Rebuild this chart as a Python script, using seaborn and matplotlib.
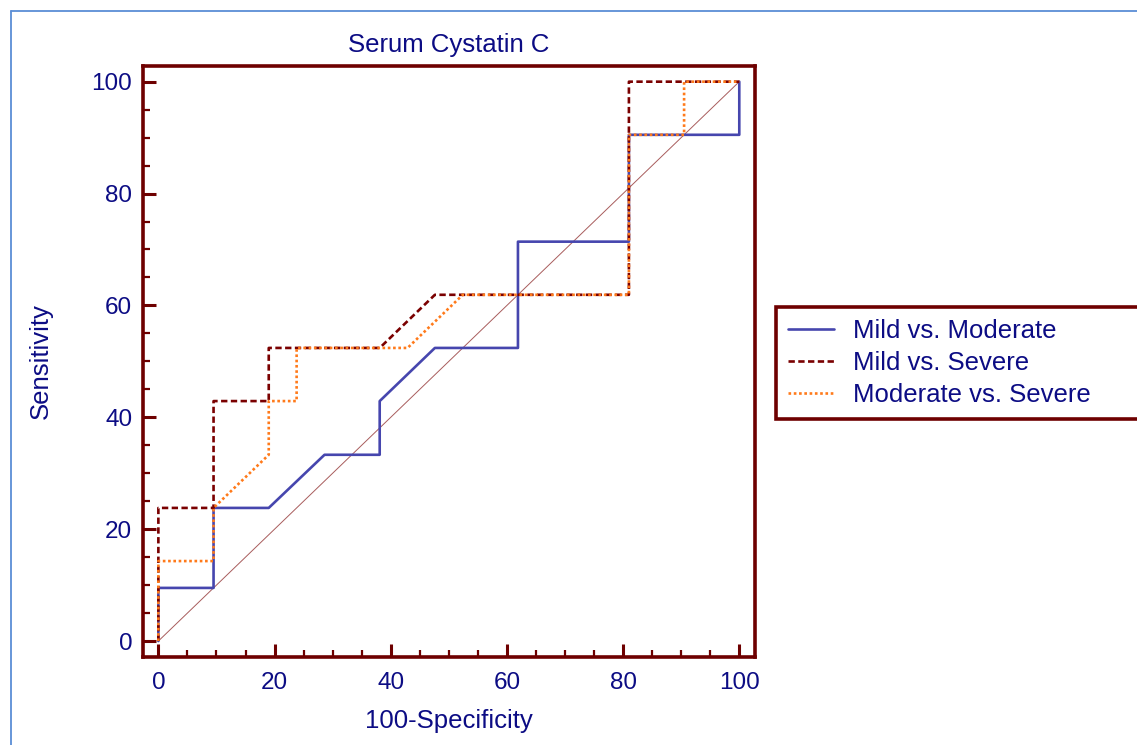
import numpy as np
import pandas as pd
import matplotlib
matplotlib.use("Agg")
import matplotlib.pyplot as plt
from matplotlib.lines import Line2D
from matplotlib.ticker import MultipleLocator
import seaborn as sns

# ROC curve points (100-Specificity, Sensitivity)
mild_mod_x = [0, 0, 9.5, 9.5, 19.0, 28.6, 38.1, 38.1, 47.6, 61.9, 61.9, 81.0, 81.0, 100, 100]
mild_mod_y = [0, 9.5, 9.5, 23.8, 23.8, 33.3, 33.3, 42.9, 52.4, 52.4, 71.4, 71.4, 90.5, 90.5, 100]

mild_sev_x = [0, 0, 9.5, 9.5, 19.0, 19.0, 38.1, 47.6, 81.0, 81.0, 100]
mild_sev_y = [0, 23.8, 23.8, 42.9, 42.9, 52.4, 52.4, 61.9, 61.9, 100, 100]

mod_sev_x = [0, 0, 9.5, 9.5, 19.0, 19.0, 23.8, 23.8, 42.9, 52.4, 81.0, 81.0, 90.5, 90.5, 100]
mod_sev_y = [0, 14.3, 14.3, 23.8, 33.3, 42.9, 42.9, 52.4, 52.4, 61.9, 61.9, 90.5, 90.5, 100, 100]

ref_x = [0, 100]
ref_y = [0, 100]

labels = ["Mild vs. Moderate", "Mild vs. Severe", "Moderate vs. Severe"]

sns.set_style("white")
plt.rcParams['font.family'] = ['Liberation Sans', 'DejaVu Sans']

navy = "#0c0c84"
frame = "#6e0000"

fig = plt.figure(figsize=(11.37, 7.45), dpi=100)
ax = fig.add_axes([0.126, 0.1185, 0.538, 0.7929])

# diagonal reference
sns.lineplot(x=ref_x, y=ref_y, ax=ax, color="#a85c5c", linewidth=0.7,
             sort=False, estimator=None)

sns.lineplot(x=mild_mod_x, y=mild_mod_y, ax=ax, color="#4646ae", linewidth=1.9,
             sort=False, estimator=None, label=labels[0])
sns.lineplot(x=mild_sev_x, y=mild_sev_y, ax=ax, color="#7a0000", linewidth=1.9,
             sort=False, estimator=None, label=labels[1])
sns.lineplot(x=mod_sev_x, y=mod_sev_y, ax=ax, color="#ff7a1a", linewidth=1.9,
             sort=False, estimator=None, label=labels[2])
ax.lines[2].set_linestyle((0, (2.4, 1.3)))
ax.lines[3].set_linestyle((0, (1, 1)))

ax.set_xlim(-2.6, 102.7)
ax.set_ylim(-2.8, 102.8)

ax.xaxis.set_major_locator(MultipleLocator(20))
ax.xaxis.set_minor_locator(MultipleLocator(5))
ax.yaxis.set_major_locator(MultipleLocator(20))
ax.yaxis.set_minor_locator(MultipleLocator(5))
ax.tick_params(which="major", direction="in", length=9.5, width=2.2, color=frame,
               labelsize=17.5, labelcolor=navy, pad=8,
               top=False, right=False, bottom=True, left=True)
ax.tick_params(which="minor", direction="in", length=5, width=1.6, color=frame,
               top=False, right=False, bottom=True, left=True)
ax.tick_params(axis="x", which="major", pad=11)

for s in ax.spines.values():
    s.set_color(frame)
    s.set_linewidth(2.6)

ax.set_title("Serum Cystatin C", fontsize=18.5, color=navy, pad=10)
ax.set_xlabel("100-Specificity", fontsize=18.5, color=navy, labelpad=11)
ax.set_ylabel("Sensitivity", fontsize=18.5, color=navy, labelpad=28)

leg = ax.legend(loc="upper left",
                bbox_to_anchor=(776 / 1137, 1 - 307 / 745, (1142 - 776) / 1137, 0),
                bbox_transform=fig.transFigure, mode="expand",
                fontsize=18.5, frameon=True, framealpha=1,
                fancybox=False, handlelength=1.8, handletextpad=0.75,
                labelspacing=0.32, borderpad=0.45, borderaxespad=0)
for t in leg.get_texts():
    t.set_color(navy)
leg.get_frame().set_edgecolor(frame)
leg.get_frame().set_linewidth(2.6)

# light blue outer border (left and top edges visible)
fig.add_artist(Line2D([10.5 / 1137, 10.5 / 1137], [0, 1 - 11 / 745],
                      transform=fig.transFigure, color="#5b8ed6", linewidth=1.3))
fig.add_artist(Line2D([10.5 / 1137, 1], [1 - 11 / 745, 1 - 11 / 745],
                      transform=fig.transFigure, color="#5b8ed6", linewidth=1.3))

fig.savefig("out.png", dpi=100)
